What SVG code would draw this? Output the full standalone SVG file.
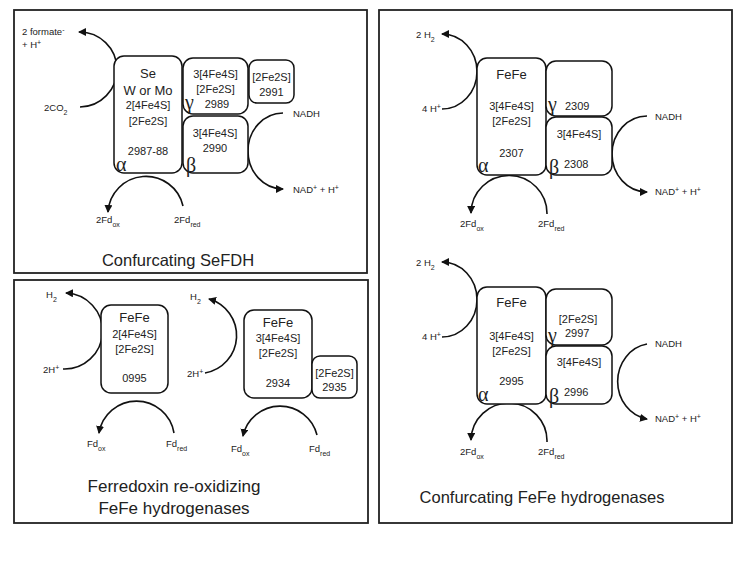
<svg xmlns="http://www.w3.org/2000/svg" width="750" height="563" viewBox="0 0 750 563">
<defs>
<marker id="ah" markerUnits="userSpaceOnUse" markerWidth="10" markerHeight="10" refX="7" refY="4" orient="auto">
<path d="M0,0 L8,4 L0,8 Z" fill="#111"/>
</marker>
<style>
.panel{fill:#fff;stroke:#222;stroke-width:1.8}
.box{fill:#fff;stroke:#111;stroke-width:1.5}
.arc{fill:none;stroke:#111;stroke-width:1.6;marker-end:url(#ah)}
text{font-family:"Liberation Sans",Arial,sans-serif;fill:#222}
.t{font-size:11px;text-anchor:middle}
.tb{font-size:13px;text-anchor:middle}
.n{font-size:11px}
.s{font-size:9.5px}
.g{font-family:"Liberation Serif","Times New Roman",serif;font-size:20px}
.title{font-size:16.5px;text-anchor:middle}
.sub{font-size:7px}
</style>
</defs>
<rect width="750" height="563" fill="#fff"/>
<g id="panels">
<rect class="panel" x="14" y="10" width="353" height="263"/>
<rect class="panel" x="14" y="280" width="354" height="243"/>
<rect class="panel" x="379" y="10" width="353" height="513"/>
</g>
<g id="connectors">
<path class="arc" d="M80 107 A37.5 37.5 0 0 0 79 32"/>
<path class="arc" d="M183 206 A38 38 0 0 0 108 212"/>
<path class="arc" d="M283 113 A35 38 0 0 0 283 189"/>
<path class="arc" d="M63 369 A38 38 0 0 0 66 293"/>
<path class="arc" d="M174 433 A38 38 0 0 0 99 433"/>
<path class="arc" d="M205 373 A38 38 0 0 0 209 299"/>
<path class="arc" d="M317 435 A38 38 0 0 0 243 436"/>
<path class="arc" d="M442 109 A35 37.5 0 0 0 442 34"/>
<path class="arc" d="M547 214 A38 38 0 0 0 471 213"/>
<path class="arc" d="M647 116 A35 38 0 0 0 647 192"/>
<path class="arc" d="M442 337 A35 37.5 0 0 0 442 262"/>
<path class="arc" d="M547 442 A38 38 0 0 0 471 440"/>
<path class="arc" d="M647 344 A35 38 0 0 0 647 419"/>
</g>
<g id="sefdh-alpha">
<rect class="box" x="114" y="56" width="68" height="117" rx="10"/>
<text class="tb" x="148" y="78">Se</text>
<text class="tb" x="148" y="95">W or Mo</text>
<text class="t" x="148" y="109">2[4Fe4S]</text>
<text class="t" x="148" y="125">[2Fe2S]</text>
<text class="t" x="148" y="155">2987-88</text>
<text class="g" x="116" y="171">α</text>
</g>
<g id="sefdh-gamma">
<rect class="box" x="183" y="58" width="65" height="56" rx="10"/>
<text class="t" x="215.5" y="78">3[4Fe4S]</text>
<text class="t" x="215.5" y="93">[2Fe2S]</text>
<text class="t" x="217" y="108">2989</text>
<text class="g" x="185" y="109">γ</text>
</g>
<g id="sefdh-beta">
<rect class="box" x="183" y="116" width="65" height="57" rx="10"/>
<text class="t" x="215" y="137">3[4Fe4S]</text>
<text class="t" x="215" y="152">2990</text>
<text class="g" x="186" y="172">β</text>
</g>
<g id="sefdh-2991">
<rect class="box" x="249" y="60" width="45" height="43" rx="8"/>
<text class="t" x="271.5" y="81">[2Fe2S]</text>
<text class="t" x="271.5" y="96">2991</text>
</g>
<g id="sefdh-labels">
<text class="s" x="22" y="35">2 formate<tspan class="sub" baseline-shift="super">-</tspan></text>
<text class="s" x="22" y="48">+ H<tspan class="sub" baseline-shift="super">+</tspan></text>
<text class="s" x="44" y="111">2CO<tspan class="sub" baseline-shift="sub">2</tspan></text>
<text class="s" x="96" y="223">2Fd<tspan class="sub" baseline-shift="sub">ox</tspan></text>
<text class="s" x="174" y="223">2Fd<tspan class="sub" baseline-shift="sub">red</tspan></text>
<text class="s" x="293" y="117">NADH</text>
<text class="s" x="293" y="193">NAD<tspan class="sub" baseline-shift="super">+</tspan> + H<tspan class="sub" baseline-shift="super">+</tspan></text>
<text class="title" x="178" y="266">Confurcating SeFDH</text>
</g>
<g id="hyd-0995">
<rect class="box" x="101" y="305" width="67" height="88" rx="10"/>
<text class="tb" x="134.5" y="322">FeFe</text>
<text class="t" x="134.5" y="338">2[4Fe4S]</text>
<text class="t" x="134.5" y="353">[2Fe2S]</text>
<text class="t" x="134.5" y="382">0995</text>
</g>
<g id="hyd-2934">
<rect class="box" x="244" y="310" width="68" height="88" rx="10"/>
<text class="tb" x="278" y="327">FeFe</text>
<text class="t" x="278" y="342">3[4Fe4S]</text>
<text class="t" x="278" y="357">[2Fe2S]</text>
<text class="t" x="278" y="387">2934</text>
</g>
<g id="hyd-2935">
<rect class="box" x="312" y="356" width="45" height="42" rx="8"/>
<text class="t" x="334.5" y="377">[2Fe2S]</text>
<text class="t" x="334.5" y="391">2935</text>
</g>
<g id="hyd-labels">
<text class="s" x="46" y="298">H<tspan class="sub" baseline-shift="sub">2</tspan></text>
<text class="s" x="43" y="373">2H<tspan class="sub" baseline-shift="super">+</tspan></text>
<text class="s" x="87" y="447">Fd<tspan class="sub" baseline-shift="sub">ox</tspan></text>
<text class="s" x="166" y="447">Fd<tspan class="sub" baseline-shift="sub">red</tspan></text>
<text class="s" x="190" y="300">H<tspan class="sub" baseline-shift="sub">2</tspan></text>
<text class="s" x="187" y="377">2H<tspan class="sub" baseline-shift="super">+</tspan></text>
<text class="s" x="231" y="452">Fd<tspan class="sub" baseline-shift="sub">ox</tspan></text>
<text class="s" x="309" y="452">Fd<tspan class="sub" baseline-shift="sub">red</tspan></text>
<text class="title" x="174" y="492" style="font-size:17px">Ferredoxin re-oxidizing</text>
<text class="title" x="174" y="514" style="font-size:17px">FeFe hydrogenases</text>
</g>
<g id="conf1-alpha">
<rect class="box" x="477" y="58" width="69" height="117" rx="10"/>
<text class="tb" x="511.5" y="79">FeFe</text>
<text class="t" x="511.5" y="110">3[4Fe4S]</text>
<text class="t" x="511.5" y="125">[2Fe2S]</text>
<text class="t" x="511.5" y="157">2307</text>
<text class="g" x="478" y="172">α</text>
</g>
<g id="conf1-gamma">
<rect class="box" x="546" y="61" width="66" height="55" rx="10"/>
<text class="g" x="548" y="111">γ</text>
<text class="n" x="565" y="110">2309</text>
</g>
<g id="conf1-beta">
<rect class="box" x="546" y="117" width="66" height="58" rx="10"/>
<text class="t" x="579" y="138">3[4Fe4S]</text>
<text class="g" x="549" y="174">β</text>
<text class="n" x="564" y="168">2308</text>
</g>
<g id="conf1-labels">
<text class="s" x="416" y="38">2 H<tspan class="sub" baseline-shift="sub">2</tspan></text>
<text class="s" x="422" y="112">4 H<tspan class="sub" baseline-shift="super">+</tspan></text>
<text class="s" x="460" y="227">2Fd<tspan class="sub" baseline-shift="sub">ox</tspan></text>
<text class="s" x="538" y="227">2Fd<tspan class="sub" baseline-shift="sub">red</tspan></text>
<text class="s" x="655" y="120">NADH</text>
<text class="s" x="655" y="195">NAD<tspan class="sub" baseline-shift="super">+</tspan> + H<tspan class="sub" baseline-shift="super">+</tspan></text>
</g>
<g id="conf2-alpha">
<rect class="box" x="477" y="287" width="69" height="117" rx="10"/>
<text class="tb" x="511.5" y="307">FeFe</text>
<text class="t" x="511.5" y="340">3[4Fe4S]</text>
<text class="t" x="511.5" y="355">[2Fe2S]</text>
<text class="t" x="511.5" y="385">2995</text>
<text class="g" x="478" y="401">α</text>
</g>
<g id="conf2-gamma">
<rect class="box" x="546" y="289" width="66" height="56" rx="10"/>
<text class="t" x="578" y="323">[2Fe2S]</text>
<text class="g" x="548" y="342">γ</text>
<text class="n" x="565" y="337">2997</text>
</g>
<g id="conf2-beta">
<rect class="box" x="546" y="346" width="66" height="58" rx="10"/>
<text class="t" x="579" y="366">3[4Fe4S]</text>
<text class="g" x="549" y="403">β</text>
<text class="n" x="564" y="396">2996</text>
</g>
<g id="conf2-labels">
<text class="s" x="416" y="266">2 H<tspan class="sub" baseline-shift="sub">2</tspan></text>
<text class="s" x="422" y="340">4 H<tspan class="sub" baseline-shift="super">+</tspan></text>
<text class="s" x="460" y="455">2Fd<tspan class="sub" baseline-shift="sub">ox</tspan></text>
<text class="s" x="538" y="455">2Fd<tspan class="sub" baseline-shift="sub">red</tspan></text>
<text class="s" x="655" y="347">NADH</text>
<text class="s" x="655" y="422">NAD<tspan class="sub" baseline-shift="super">+</tspan> + H<tspan class="sub" baseline-shift="super">+</tspan></text>
<text class="title" x="542" y="503">Confurcating FeFe hydrogenases</text>
</g>
</svg>
